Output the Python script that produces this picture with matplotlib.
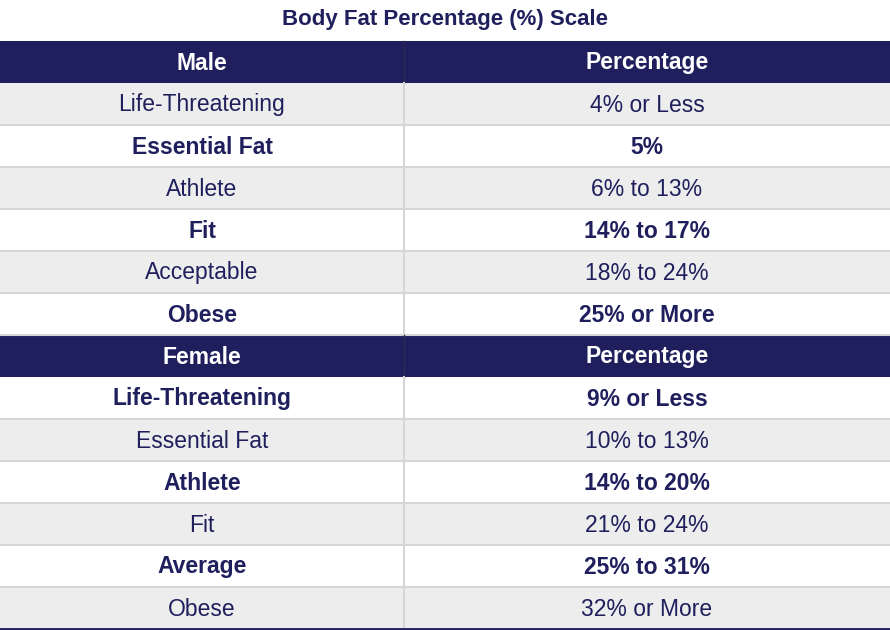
import matplotlib
matplotlib.use("Agg")
from matplotlib import pyplot as plt
from matplotlib.patches import Rectangle

title = "Body Fat Percentage (%) Scale"
male_labels = ["Life-Threatening", "Essential Fat", "Athlete", "Fit", "Acceptable", "Obese"]
male_values = ["4% or Less", "5%", "6% to 13%", "14% to 17%", "18% to 24%", "25% or More"]
female_labels = ["Life-Threatening", "Essential Fat", "Athlete", "Fit", "Average", "Obese"]
female_values = ["9% or Less", "10% to 13%", "14% to 20%", "21% to 24%", "25% to 31%", "32% or More"]
# which rows are bold (white background); the others are plain on gray
male_bold = [False, True, False, True, False, True]
female_bold = [True, False, True, False, True, False]

navy = "#1e1f5c"
gray = "#ededed"
line = "#d6d6d6"
font = "Liberation Sans"

W, H = 890, 630
fig = plt.figure(figsize=(W / 100, H / 100), dpi=100)
ax = fig.add_axes([0, 0, 1, 1])
ax.set_xlim(0, W)
ax.set_ylim(H, 0)
ax.axis("off")

split = 404
row_h = 42
top = 41

ax.text(W / 2, 20, title, ha="center", va="center", fontsize=16, fontweight="bold",
        color=navy, family=font)

rows = [("header", "Male", "Percentage", True)]
rows += [("r", a, b, c) for a, b, c in zip(male_labels, male_values, male_bold)]
rows.append(("header", "Female", "Percentage", True))
rows += [("r", a, b, c) for a, b, c in zip(female_labels, female_values, female_bold)]

for i, (kind, a, b, bold) in enumerate(rows):
    y0 = top + i * row_h
    yc = y0 + row_h / 2 + 1
    if kind == "header":
        ax.add_patch(Rectangle((0, y0), W, row_h, color=navy, lw=0))
        ax.plot([split, split], [y0, y0 + row_h], color="#2a2b55", lw=1)
        for x, t in [(split / 2, a), ((split + W) / 2, b)]:
            ax.text(x, yc, t, ha="center", va="center", fontsize=16.5,
                    fontweight="bold", color="white", family=font)
        continue
    if not bold:
        ax.add_patch(Rectangle((0, y0), W, row_h, color=gray, lw=0))
    ax.plot([0, W], [y0 + row_h, y0 + row_h], color=line, lw=1.5)
    ax.plot([split, split], [y0, y0 + row_h], color=line, lw=1.5)
    for x, t in [(split / 2, a), ((split + W) / 2, b)]:
        ax.text(x, yc, t, ha="center", va="center", fontsize=16.5,
                fontweight="bold" if bold else "normal", color=navy, family=font)

ax.plot([0, W], [H - 1.5, H - 1.5], color=navy, lw=2)

fig.savefig("out.png", dpi=100)
